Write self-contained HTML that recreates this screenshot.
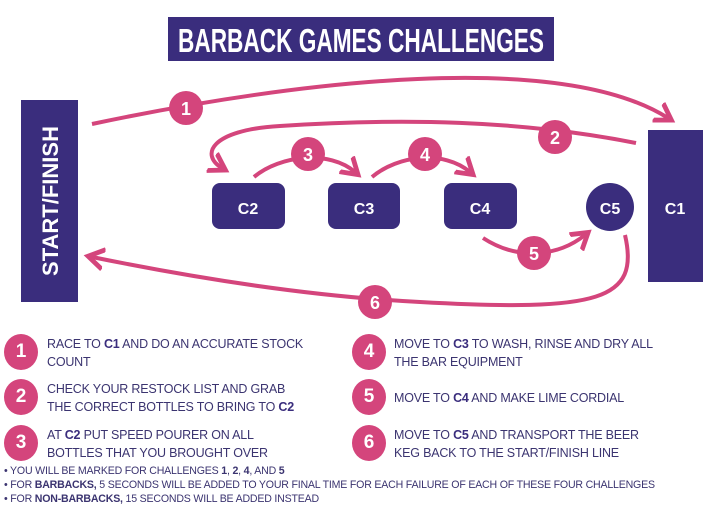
<!DOCTYPE html>
<html><head><style>
body{margin:0;background:#fff;width:720px;height:509px;overflow:hidden;font-family:"Liberation Sans",sans-serif;position:relative}
.t{position:absolute;color:#3b3470;font-size:12.5px;line-height:18px;text-transform:uppercase;letter-spacing:-0.2px}
.t b{color:#3a2d7d}
.b{position:absolute;width:34px;height:36px;border-radius:50%;background:#d4457c;color:#fff;font-size:19px;font-weight:bold;text-align:center;line-height:36px}
.n{position:absolute;font-size:10.6px;color:#3b3470;letter-spacing:-0.2px}
</style></head><body>
<svg width="720" height="330" style="position:absolute;left:0;top:0" font-family="Liberation Sans, sans-serif">
<defs><marker id="a" markerWidth="6" markerHeight="6" refX="3" refY="3" orient="auto" markerUnits="strokeWidth"><path d="M0,0.5 L4,3 L0,5.5" fill="none" stroke="#d4457c" stroke-width="1.2"/></marker></defs>
<rect x="168" y="17" width="386" height="44" fill="#3a2d7d"/>
<text x="361" y="52" fill="#fff" font-size="33" font-weight="bold" text-anchor="middle" textLength="366" lengthAdjust="spacingAndGlyphs">BARBACK GAMES CHALLENGES</text>
<rect x="21" y="100" width="57" height="202" fill="#3a2d7d"/>
<text transform="translate(58,201) rotate(-90)" fill="#fff" font-size="22" font-weight="bold" text-anchor="middle">START/FINISH</text>
<rect x="648" y="130" width="55" height="152" fill="#3a2d7d"/>
<text x="675" y="214" fill="#fff" font-size="16" font-weight="bold" text-anchor="middle">C1</text>
<rect x="212" y="183" width="73" height="46" rx="8" fill="#3a2d7d"/>
<rect x="328" y="183" width="72" height="46" rx="8" fill="#3a2d7d"/>
<rect x="444" y="183" width="73" height="46" rx="8" fill="#3a2d7d"/>
<circle cx="610" cy="207" r="24" fill="#3a2d7d"/>
<g fill="#fff" font-size="16" font-weight="bold" text-anchor="middle">
<text x="248" y="214">C2</text><text x="364" y="214">C3</text><text x="480" y="214">C4</text><text x="610" y="214">C5</text></g>
<g fill="none" stroke="#d4457c" stroke-width="4" marker-end="url(#a)">
<path d="M92,124 C300,80 560,50 668,118"/>
<path d="M636,143 C520,120 400,118 280,126 C210,130 200,155 222,168"/>
<path d="M254,177 C280,155 330,150 355,172"/>
<path d="M372,177 C398,155 444,150 470,172"/>
<path d="M483,238 C520,262 560,255 585,235"/>
<path d="M625,235 C640,300 600,312 420,302 C300,296 180,275 92,257"/>
</g>
<g fill="#d4457c"><circle cx="186" cy="108" r="17"/><circle cx="555" cy="137" r="17"/><circle cx="308" cy="154" r="17"/><circle cx="425" cy="154" r="17"/><circle cx="534" cy="253" r="17"/><circle cx="375" cy="302" r="17"/></g>
<g fill="#fff" font-size="18" font-weight="bold" text-anchor="middle">
<text x="186" y="115">1</text><text x="555" y="144">2</text><text x="308" y="161">3</text><text x="425" y="161">4</text><text x="534" y="260">5</text><text x="375" y="309">6</text></g>
</svg>
<div class="b" style="left:4px;top:334px">1</div>
<div class="t" style="left:47px;top:335px">Race to <b>C1</b> and do an accurate stock<br>count</div>
<div class="b" style="left:4px;top:379px">2</div>
<div class="t" style="left:47px;top:380px">Check your restock list and grab<br>the correct bottles to bring to <b>C2</b></div>
<div class="b" style="left:4px;top:425px">3</div>
<div class="t" style="left:47px;top:426px">At <b>C2</b> put speed pourer on all<br>bottles that you brought over</div>
<div class="b" style="left:352px;top:334px">4</div>
<div class="t" style="left:394px;top:335px">Move to <b>C3</b> to wash, rinse and dry all<br>the bar equipment</div>
<div class="b" style="left:352px;top:379px">5</div>
<div class="t" style="left:394px;top:389px">Move to <b>C4</b> and make lime cordial</div>
<div class="b" style="left:352px;top:425px">6</div>
<div class="t" style="left:394px;top:426px">Move to <b>C5</b> and transport the beer<br>keg back to the start/finish line</div>
<div class="n" style="left:4px;top:465px">• YOU WILL BE MARKED FOR CHALLENGES <b>1</b>, <b>2</b>, <b>4</b>, AND <b>5</b></div>
<div class="n" style="left:4px;top:479px">• FOR <b>BARBACKS,</b> 5 SECONDS WILL BE ADDED TO YOUR FINAL TIME FOR EACH FAILURE OF EACH OF THESE FOUR CHALLENGES</div>
<div class="n" style="left:4px;top:493px">• FOR <b>NON-BARBACKS,</b> 15 SECONDS WILL BE ADDED INSTEAD</div>
</body></html>
